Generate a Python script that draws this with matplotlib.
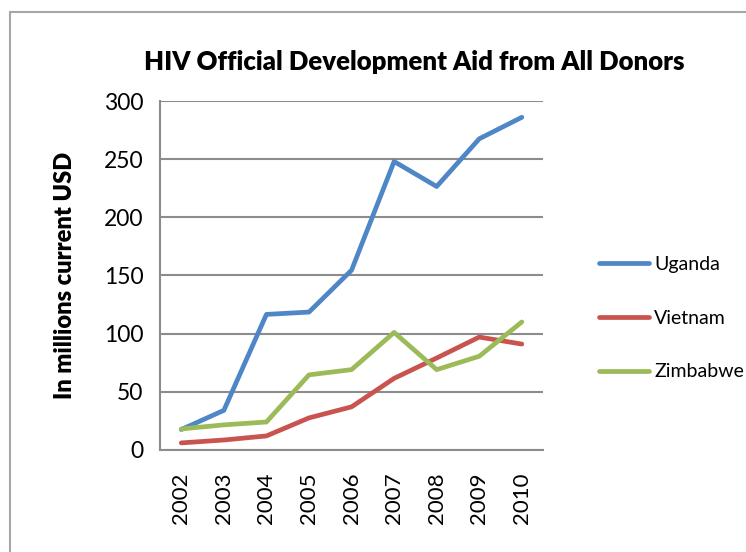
import matplotlib.pyplot as plt
from matplotlib.patches import Rectangle

years = ['2002', '2003', '2004', '2005', '2006', '2007', '2008', '2009', '2010']
uganda = [17.5, 34, 116.5, 118.5, 154.5, 248, 226.5, 267.5, 286]
vietnam = [6, 8.5, 12, 27.5, 37, 61.5, 79, 97, 91]
zimbabwe = [18, 21.5, 24, 64.5, 69, 101, 69, 80.5, 110]

plt.rcParams['font.family'] = ['Lato', 'DejaVu Sans']

fig = plt.figure(figsize=(7.46, 5.52), dpi=100)
ax = fig.add_axes([0.2145, 0.185, 0.5135, 0.632])

# chart frame
fig.patches.append(Rectangle((10 / 746, -0.1), 1.0, 1 - 12 / 552 + 0.1,
                             transform=fig.transFigure, fill=False,
                             edgecolor='#a6a6a6', linewidth=1.5))

x = range(len(years))
ax.plot(x, uganda, color='#4f86c6', linewidth=3.4, label='Uganda', solid_capstyle='round')
ax.plot(x, vietnam, color='#c9544f', linewidth=3.4, label='Vietnam', solid_capstyle='round')
ax.plot(x, zimbabwe, color='#9bbb59', linewidth=3.4, label='Zimbabwe', solid_capstyle='round')

ax.set_xlim(-0.5, len(years) - 0.5)
ax.set_ylim(0, 300)
ax.set_yticks(range(0, 301, 50))
ax.set_xticks(list(x))
ax.set_xticklabels(years, rotation=90, fontsize=16)
ax.tick_params(axis='y', labelsize=16.5, length=0, pad=12)
ax.tick_params(axis='x', length=0, pad=16)

ax.grid(axis='y', color='#8c8c8c', linewidth=1.5)
ax.set_axisbelow(True)
for side in ['top', 'right']:
    ax.spines[side].set_visible(False)
ax.spines['left'].set_color('#8c8c8c')
ax.spines['bottom'].set_color('#8c8c8c')
ax.spines['left'].set_linewidth(1.5)
ax.spines['bottom'].set_linewidth(1.5)

ax.set_ylabel('In millions current USD', fontsize=17, fontweight='heavy', labelpad=20)
fig.text(0.555, 0.888, 'HIV Official Development Aid from All Donors',
         ha='center', va='center', fontsize=18.5, fontweight='heavy')

ax.legend(loc='center left', bbox_to_anchor=(1.1, 0.378), frameon=False,
          fontsize=14, handlelength=2.6, handletextpad=0.25, labelspacing=1.9)

fig.savefig('out.png', dpi=100)
